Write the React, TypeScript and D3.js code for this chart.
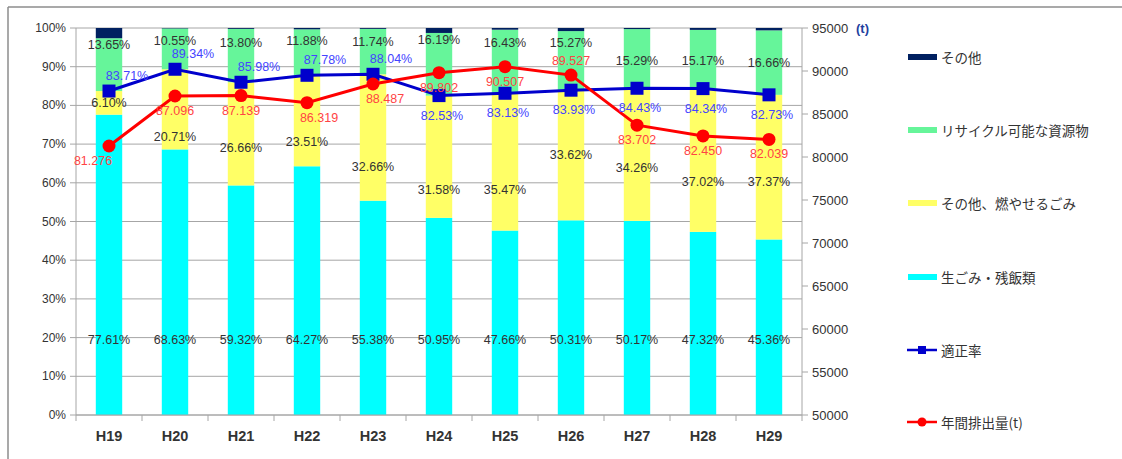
import * as d3 from 'd3';
import * as React from 'react';

const categories = ['H19', 'H20', 'H21', 'H22', 'H23', 'H24', 'H25', 'H26', 'H27', 'H28', 'H29'];

// 組成比 (%)
const namagomi = [77.61, 68.63, 59.32, 64.27, 55.38, 50.95, 47.66, 50.31, 50.17, 47.32, 45.36];
const moyaseru = [6.1, 20.71, 26.66, 23.51, 32.66, 31.58, 35.47, 33.62, 34.26, 37.02, 37.37];
const recycle = [13.65, 10.55, 13.8, 11.88, 11.74, 16.19, 16.43, 15.27, 15.29, 15.17, 16.66];
const sonota = [2.64, 0.11, 0.22, 0.34, 0.22, 1.28, 0.44, 0.8, 0.28, 0.49, 0.61];

// 適正率 (%) and 年間排出量 (t)
const tekiseiritsu = [83.71, 89.34, 85.98, 87.78, 88.04, 82.53, 83.13, 83.93, 84.43, 84.34, 82.73];
const haishutsu = [81276, 87096, 87139, 86319, 88487, 89802, 90507, 89527, 83702, 82450, 82039];

const pctTicks = [0, 10, 20, 30, 40, 50, 60, 70, 80, 90, 100];
const tonTicks = [50000, 55000, 60000, 65000, 70000, 75000, 80000, 85000, 90000, 95000];

// where the hand-placed segment labels sit (in % of the left axis)
const yellowLabelAt = [80.6, 71.8, 69.0, 70.5, 64.1, 58.1, 58.1, 67.2, 63.8, 60.2, 60.2];
const greenLabelAt = [95.6, 96.6, 96.1, 96.6, 96.4, 96.9, 96.1, 96.1, 91.5, 91.5, 91.0];
const cyanLabelAt = 19.4;

const W = 1122;
const H = 459;
const M = { left: 76, right: 802, top: 28, bottom: 415 };

const C = {
  navy: '#002060',
  green: '#66F59A',
  yellow: '#FFFF66',
  cyan: '#00FFFF',
  blue: '#0000CC',
  red: '#FF0000',
  grid: '#A6A6A6',
  text: '#333333',
};

const NUM_FONT = '"Liberation Sans", Arial, sans-serif';
const JP_FONT = '"Noto Sans CJK JP", "Noto Sans", sans-serif';

const legendItems = [
  { label: 'その他', color: C.navy, kind: 'bar' },
  { label: 'リサイクル可能な資源物', color: C.green, kind: 'bar' },
  { label: 'その他、燃やせるごみ', color: C.yellow, kind: 'bar' },
  { label: '生ごみ・残飯類', color: C.cyan, kind: 'bar' },
  { label: '適正率', color: C.blue, kind: 'square' },
  { label: '年間排出量(t)', color: C.red, kind: 'circle' },
];
const legendY = [57, 130, 203, 277, 350, 422];

export default function App() {
  const x = React.useMemo(
    () => d3.scaleBand().domain(categories).range([M.left, M.right]).paddingInner(0.6).paddingOuter(0.3),
    [],
  );
  const yPct = React.useMemo(() => d3.scaleLinear().domain([0, 100]).range([M.bottom, M.top]), []);
  const yTon = React.useMemo(() => d3.scaleLinear().domain([50000, 95000]).range([M.bottom, M.top]), []);

  const stacked = React.useMemo(() => {
    const rows = categories.map((c, i) => ({
      cat: c,
      namagomi: namagomi[i],
      moyaseru: moyaseru[i],
      recycle: recycle[i],
      sonota: sonota[i],
    }));
    return d3.stack<any>().keys(['namagomi', 'moyaseru', 'recycle', 'sonota'])(rows);
  }, []);
  const fills = [C.cyan, C.yellow, C.green, C.navy];

  const cx = (i: number) => (x(categories[i]) ?? 0) + x.bandwidth() / 2;
  const step = x.step();

  const bluePath = d3.line<number>().x((_, i) => cx(i)).y((d) => yPct(d))(tekiseiritsu) ?? '';
  const redPath = d3.line<number>().x((_, i) => cx(i)).y((d) => yTon(d))(haishutsu) ?? '';

  const fmtPct = (v: number) => v.toFixed(2) + '%';
  const fmtTon = d3.format(',');

  return (
    <div style={{ position: 'absolute', left: 0, top: 0, width: W, height: H, background: '#fff' }}>
      <svg width={W} height={H} style={{ display: 'block' }}>
        {/* frame */}
        <line x1={8} x2={W} y1={7} y2={7} stroke="#8c8c8c" strokeWidth={1.5} />
        <line x1={8} x2={8} y1={7} y2={H} stroke="#8c8c8c" strokeWidth={1.5} />

        {/* grid */}
        {pctTicks.map((t) => (
          <line key={t} x1={M.left} x2={M.right} y1={yPct(t)} y2={yPct(t)} stroke={C.grid} strokeWidth={1} />
        ))}

        {/* bars */}
        {stacked.map((layer, li) =>
          layer.map((d, i) => (
            <rect
              key={`${li}-${i}`}
              x={x(categories[i])}
              y={yPct(d[1])}
              width={x.bandwidth()}
              height={yPct(d[0]) - yPct(d[1])}
              fill={fills[li]}
            />
          )),
        )}

        {/* axes */}
        <line x1={M.left} x2={M.left} y1={M.top} y2={M.bottom} stroke={C.grid} />
        <line x1={M.right} x2={M.right} y1={M.top} y2={M.bottom} stroke={C.grid} />
        <line x1={M.left} x2={M.right} y1={M.bottom} y2={M.bottom} stroke={C.grid} />
        {pctTicks.map((t) => (
          <g key={t}>
            <line x1={M.left - 6} x2={M.left} y1={yPct(t)} y2={yPct(t)} stroke={C.grid} />
            <text
              x={M.left - 10}
              y={yPct(t)}
              textAnchor="end"
              dominantBaseline="central"
              fontFamily={NUM_FONT}
              fontSize={12}
              fill={C.text}
            >
              {t}%
            </text>
          </g>
        ))}
        {tonTicks.map((t) => (
          <g key={t}>
            <line x1={M.right} x2={M.right + 6} y1={yTon(t)} y2={yTon(t)} stroke={C.grid} />
            <text
              x={M.right + 10}
              y={yTon(t)}
              dominantBaseline="central"
              fontFamily={NUM_FONT}
              fontSize={13}
              fill={C.text}
            >
              {t}
            </text>
          </g>
        ))}
        <text x={856} y={yTon(95000)} dominantBaseline="central" fontFamily={NUM_FONT} fontSize={13} fontWeight="bold" fill="#1F3F9F">
          (t)
        </text>
        {d3.range(categories.length + 1).map((k) => (
          <line key={k} x1={M.left + k * step} x2={M.left + k * step} y1={M.bottom} y2={M.bottom + 6} stroke={C.grid} />
        ))}
        {categories.map((c, i) => (
          <text key={c} x={cx(i)} y={436} textAnchor="middle" dominantBaseline="central" fontFamily={NUM_FONT} fontSize={14.5} fontWeight="bold" fill="#333">
            {c}
          </text>
        ))}

        {/* segment labels */}
        {categories.map((c, i) => (
          <g key={c} fontFamily={NUM_FONT} fontSize={12.5} fill={C.text} textAnchor="middle" dominantBaseline="central">
            <text x={cx(i)} y={yPct(cyanLabelAt)}>{fmtPct(namagomi[i])}</text>
            <text x={cx(i)} y={yPct(yellowLabelAt[i])}>{fmtPct(moyaseru[i])}</text>
            <text x={cx(i)} y={yPct(greenLabelAt[i])}>{fmtPct(recycle[i])}</text>
          </g>
        ))}

        {/* lines */}
        <path d={bluePath} fill="none" stroke={C.blue} strokeWidth={3} />
        <path d={redPath} fill="none" stroke={C.red} strokeWidth={3} />
        {tekiseiritsu.map((v, i) => (
          <rect key={i} x={cx(i) - 6.5} y={yPct(v) - 6.5} width={13} height={13} fill={C.blue} />
        ))}
        {haishutsu.map((v, i) => (
          <circle key={i} cx={cx(i)} cy={yTon(v)} r={6.5} fill={C.red} />
        ))}

        {/* line labels */}
        {tekiseiritsu.map((v, i) => {
          const above = i < 5;
          return (
            <text
              key={i}
              x={cx(i) + (above ? 18 : 3)}
              y={yPct(v) + (above ? -15 : 20)}
              textAnchor="middle"
              dominantBaseline="central"
              fontFamily={NUM_FONT}
              fontSize={12.5}
              fill="#4444FF"
            >
              {fmtPct(v)}
            </text>
          );
        })}
        {haishutsu.map((v, i) => {
          const above = i === 7;
          return (
            <text
              key={i}
              x={cx(i) + (i === 0 ? -16 : i === 3 || i === 4 ? 12 : 0)}
              y={yTon(v) + (above ? -14 : 15)}
              textAnchor="middle"
              dominantBaseline="central"
              fontFamily={NUM_FONT}
              fontSize={12.5}
              fill="#FF4444"
            >
              {fmtTon(v).replace(',', '.')}
            </text>
          );
        })}

        {/* legend */}
        {legendItems.map((it, k) => {
          const ly = legendY[k];
          return (
            <g key={it.label}>
              {it.kind === 'bar' ? (
                <rect x={908} y={ly - 3} width={29} height={6} fill={it.color} />
              ) : (
                <g>
                  <line x1={907} x2={937} y1={ly} y2={ly} stroke={it.color} strokeWidth={2.5} />
                  {it.kind === 'square' ? (
                    <rect x={918} y={ly - 4} width={8} height={8} fill={it.color} />
                  ) : (
                    <circle cx={922} cy={ly} r={4.5} fill={it.color} />
                  )}
                </g>
              )}
              <text x={941} y={ly} dominantBaseline="central" fontFamily={JP_FONT} fontSize={13.5} fill="#333">
                {it.label}
              </text>
            </g>
          );
        })}
      </svg>
    </div>
  );
}
